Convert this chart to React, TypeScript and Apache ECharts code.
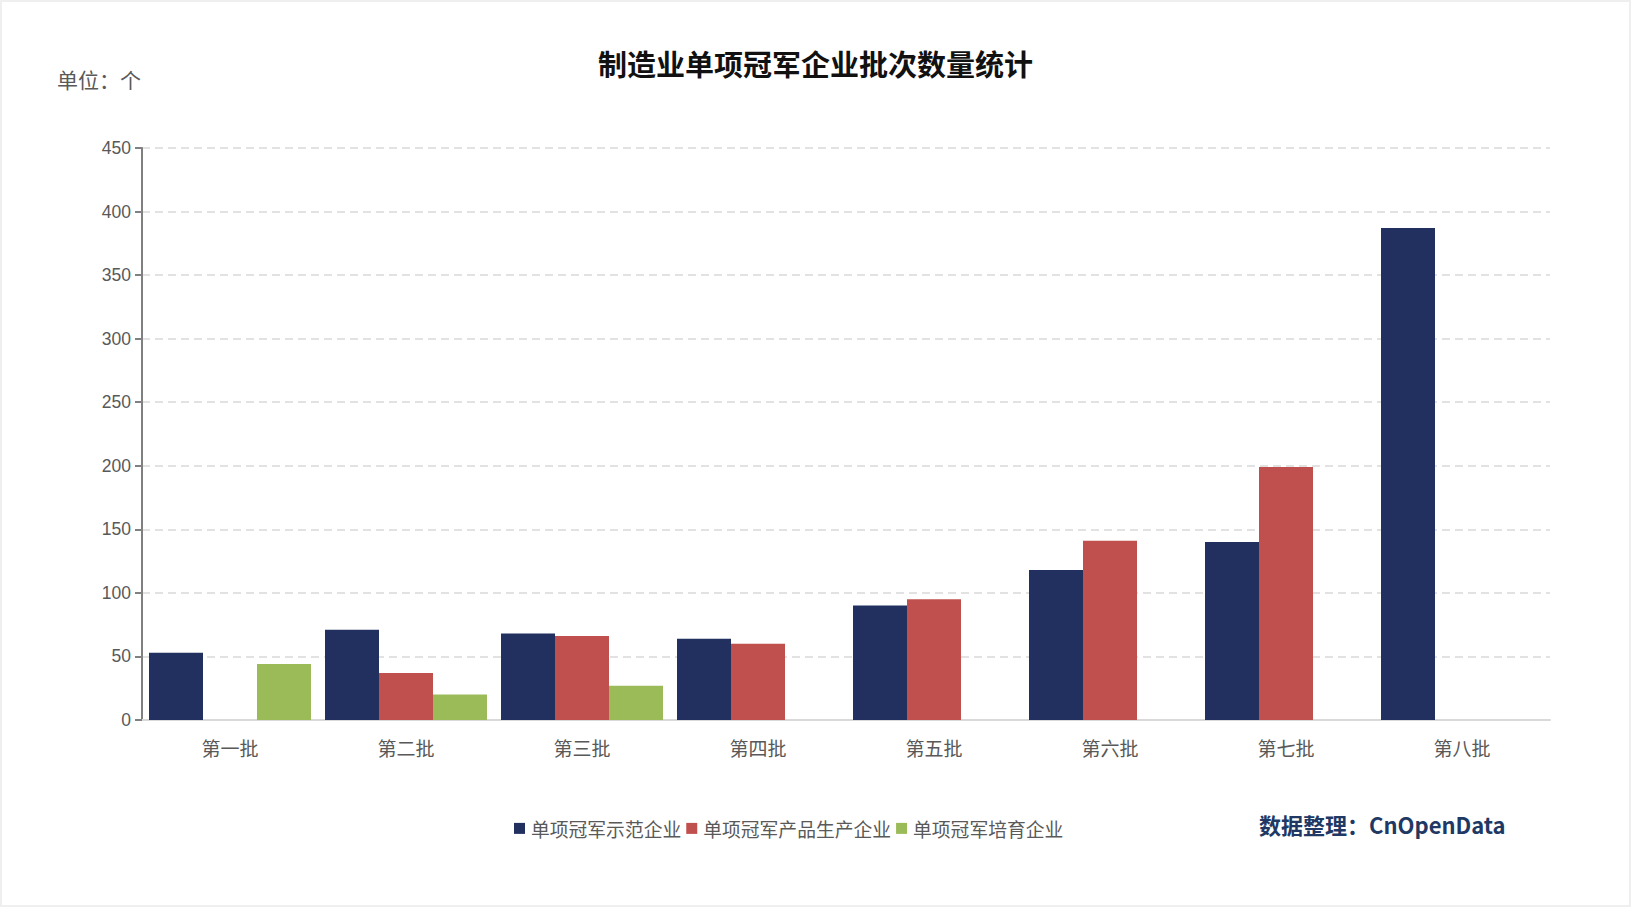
import React, { useEffect, useRef } from "react";
import * as echarts from "echarts";

const categories = ["第一批", "第二批", "第三批", "第四批", "第五批", "第六批", "第七批", "第八批"];
const demoValues = [53, 71, 68, 64, 90, 118, 140, 387];
const productValues = [null, 37, 66, 60, 95, 141, 199, null];
const cultivateValues = [44, 20, 27, null, null, null, null, null];
const seriesNames = ["单项冠军示范企业", "单项冠军产品生产企业", "单项冠军培育企业"];
const colors = ["#21305E", "#C0504D", "#9BBB59"];

const FONT = "'Liberation Sans', 'Noto Sans CJK SC', sans-serif";
const CJK = "'Noto Sans CJK SC', sans-serif";

export default function App() {
  const ref = useRef<HTMLDivElement>(null);
  useEffect(() => {
    if (!ref.current) return;
    const chart = echarts.init(ref.current, undefined, { renderer: "svg" });
    const mk = (name: string, data: (number | null)[], color: string) => ({
      name,
      type: "bar",
      data,
      barWidth: 54,
      barGap: "0%",
      itemStyle: { color },
    });
    chart.setOption({
      animation: false,
      backgroundColor: "#ffffff",
      textStyle: { fontFamily: FONT },
      title: {
        text: "制造业单项冠军企业批次数量统计",
        left: "center",
        top: 41,
        textStyle: { fontSize: 29, fontWeight: "bold", color: "#111111", fontFamily: CJK },
      },
      legend: {
        data: seriesNames,
        left: 507,
        top: 812,
        itemWidth: 11,
        itemHeight: 11,
        itemGap: 5,
        icon: "rect",
        textStyle: { fontSize: 18.8, color: "#595959", padding: [0, 0, 0, 1], fontFamily: CJK },
      },
      grid: { left: 140, right: 79, top: 146, bottom: 185, containLabel: false },
      xAxis: {
        type: "category",
        data: categories,
        axisLine: { lineStyle: { color: "#d9d9d9", width: 2 } },
        axisTick: { show: false },
        axisLabel: { fontSize: 19, color: "#595959", margin: 18, fontFamily: CJK },
      },
      yAxis: {
        type: "value",
        min: 0,
        max: 450,
        interval: 50,
        axisLine: { show: true, lineStyle: { color: "#808080", width: 2 } },
        axisTick: { show: true, length: 7, lineStyle: { color: "#808080", width: 2 } },
        axisLabel: { fontSize: 17.5, color: "#595959", margin: 11 },
        splitLine: { lineStyle: { color: "#d9d9d9", width: 1.5, type: [8, 5] } },
      },
      series: [
        mk(seriesNames[0], demoValues, colors[0]),
        mk(seriesNames[1], productValues, colors[1]),
        mk(seriesNames[2], cultivateValues, colors[2]),
      ],
      graphic: [
        {
          type: "text",
          left: 55,
          top: 66,
          style: { text: "单位：个", fontSize: 21, fill: "#595959", fontFamily: CJK },
        },
        {
          type: "text",
          left: 1257,
          top: 811,
          style: { text: "数据整理：CnOpenData", fontSize: 22, fontWeight: "bold", fill: "#203864", fontFamily: CJK },
        },
      ],
    });
    return () => chart.dispose();
  }, []);
  return (
    <div style={{ position: "fixed", left: 0, top: 0, width: 1631, height: 907, background: "#efefef" }}>
      <div ref={ref} style={{ position: "absolute", left: 2, top: 2, width: 1627, height: 903 }} />
    </div>
  );
}
